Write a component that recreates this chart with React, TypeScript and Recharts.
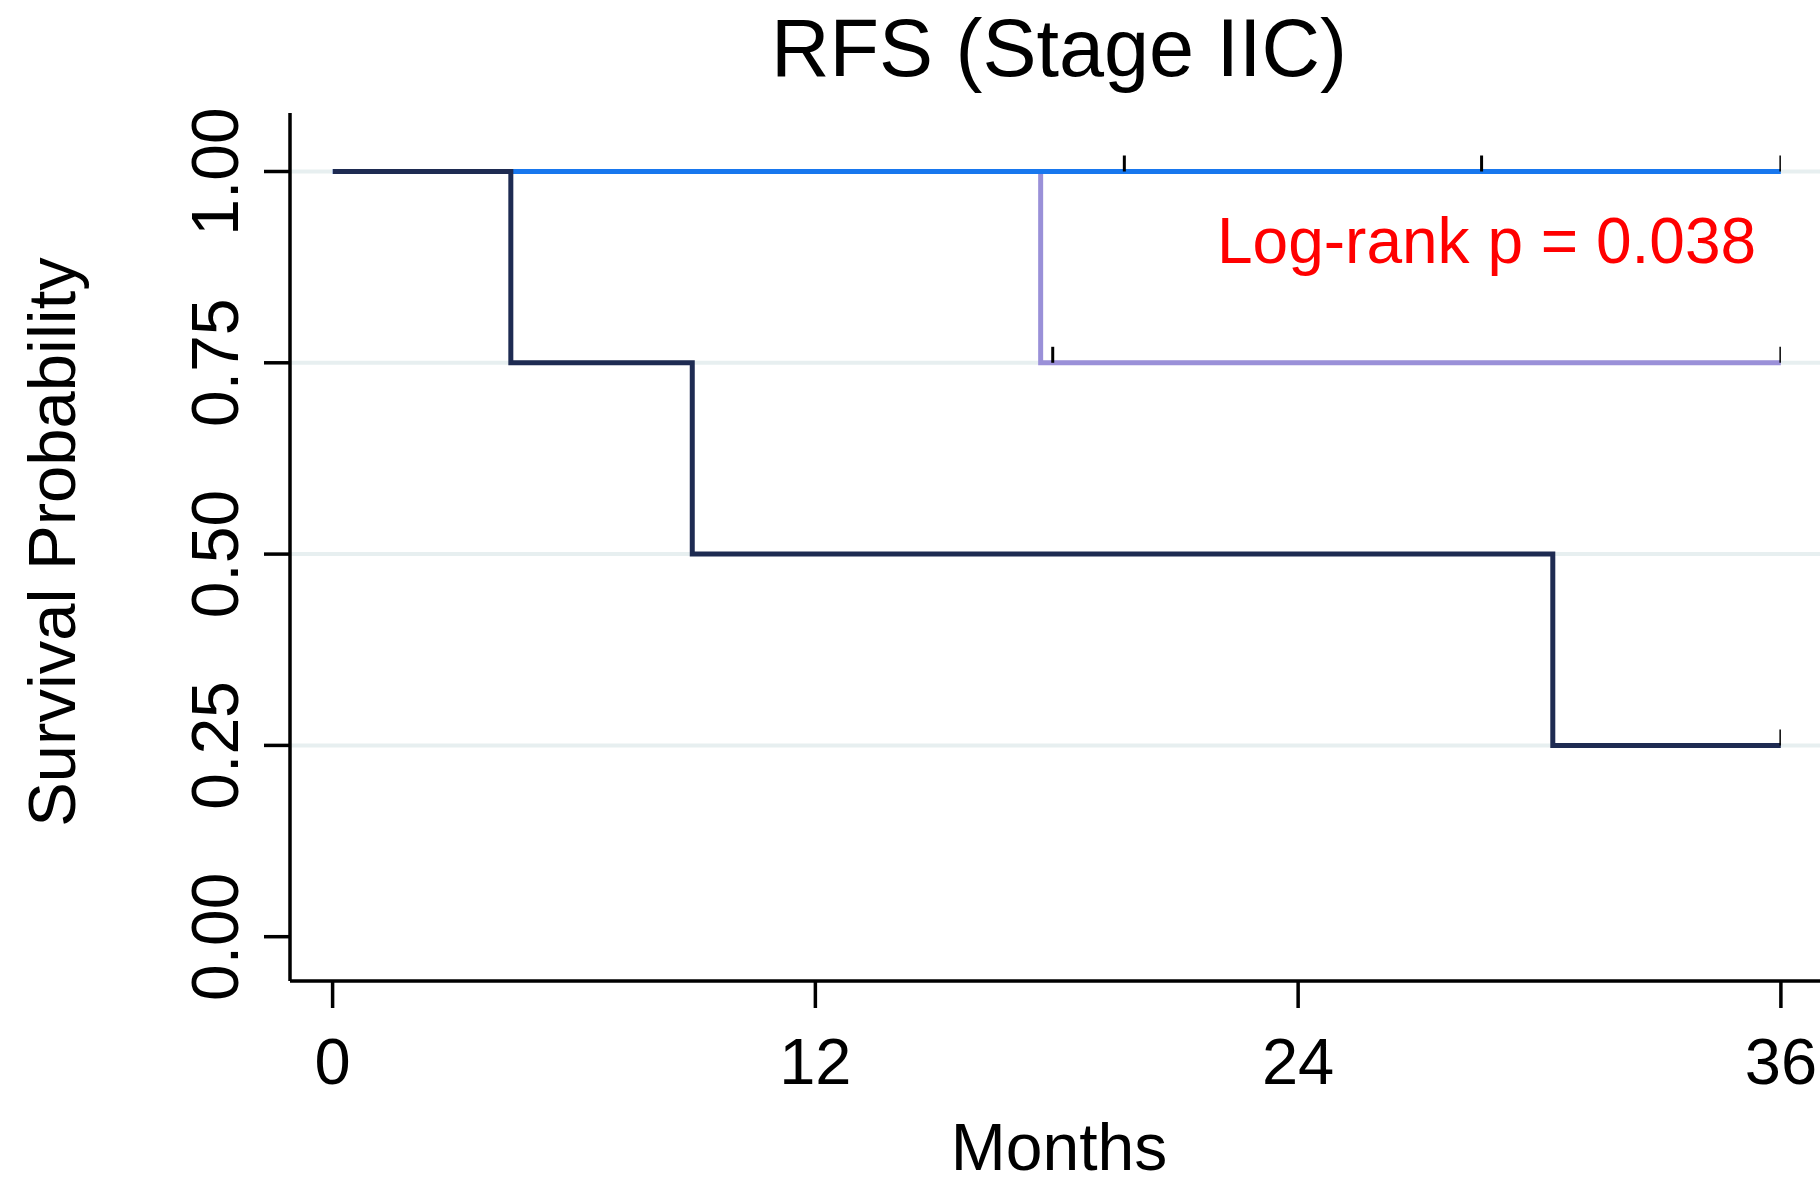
import React from "react";
import { ComposedChart, Line, XAxis, YAxis, CartesianGrid } from "recharts";

// Kaplan-Meier step data (months, survival probability)
const groupBlue = [
  { t: 0, s: 1 },
  { t: 36, s: 1 },
];
const groupPurple = [
  { t: 0, s: 1 },
  { t: 17.6, s: 0.75 },
  { t: 36, s: 0.75 },
];
const groupNavy = [
  { t: 0, s: 1 },
  { t: 4.43, s: 0.75 },
  { t: 8.94, s: 0.5 },
  { t: 30.33, s: 0.25 },
  { t: 36, s: 0.25 },
];
// censoring marks
const censorBlue = [
  { t: 19.68, s: 1 },
  { t: 28.56, s: 1 },
  { t: 36, s: 1 },
];
const censorPurple = [
  { t: 17.9, s: 0.75 },
  { t: 36, s: 0.75 },
];
const censorNavy = [{ t: 36, s: 0.25 }];

const xTicks = [0, 12, 24, 36];
const yTicks = [0, 0.25, 0.5, 0.75, 1];
const gridValues = [0.25, 0.5, 0.75, 1];
const yTickLabels = ["0.00", "0.25", "0.50", "0.75", "1.00"];

const FONT = "'Liberation Sans', Arial, Helvetica, sans-serif";

const CensorMark = (props: any) => {
  const { cx, cy } = props;
  if (cx == null || cy == null) return null;
  return <line x1={cx} y1={cy} x2={cx} y2={cy - 16} stroke="#000" strokeWidth={3} />;
};

const YTick = (props: any) => {
  const { x, y, payload } = props;
  const idx = yTicks.indexOf(payload.value);
  const label = idx >= 0 ? yTickLabels[idx] : String(payload.value);
  return (
    <g transform={`translate(${x},${y}) rotate(-90)`}>
      <text x={0} y={0} textAnchor="middle" fontSize={66} fontFamily={FONT} fill="#000">
        {label}
      </text>
    </g>
  );
};

export default function App() {
  return (
    <div style={{ position: "absolute", left: 0, top: 0, width: 1820, height: 1183, background: "#fff" }}>
      <ComposedChart
        width={1820}
        height={1183}
        margin={{ top: 113, right: 0, bottom: 0, left: 0 }}
      >
        <CartesianGrid
          vertical={false}
          horizontalValues={gridValues}
          stroke="#e7eff0"
          strokeWidth={4}
        />
        <XAxis
          type="number"
          dataKey="t"
          domain={[0, 36]}
          ticks={xTicks}
          height={202}
          padding={{ left: 42.6, right: 39.1 }}
          tickSize={27}
          tickMargin={30}
          axisLine={{ stroke: "#000", strokeWidth: 3.5 }}
          tickLine={{ stroke: "#000", strokeWidth: 3.5 }}
          tick={{ fontSize: 65, fontFamily: FONT, fill: "#000" }}
          allowDataOverflow
        />
        <YAxis
          type="number"
          domain={[0, 1]}
          ticks={yTicks}
          width={290}
          padding={{ top: 58.5, bottom: 44.3 }}
          tickSize={26}
          tickMargin={26}
          axisLine={{ stroke: "#000", strokeWidth: 3.5 }}
          tickLine={{ stroke: "#000", strokeWidth: 3.5 }}
          tick={<YTick />}
        />
        <Line data={groupPurple} dataKey="s" type="stepAfter" stroke="#9a90d8" strokeWidth={5} dot={false} isAnimationActive={false} />
        <Line data={groupBlue} dataKey="s" type="stepAfter" stroke="#1877ee" strokeWidth={5} dot={false} isAnimationActive={false} />
        <Line data={groupNavy} dataKey="s" type="stepAfter" stroke="#1e2b52" strokeWidth={5} dot={false} isAnimationActive={false} />
        <Line data={censorBlue} dataKey="s" stroke="none" dot={<CensorMark />} isAnimationActive={false} />
        <Line data={censorPurple} dataKey="s" stroke="none" dot={<CensorMark />} isAnimationActive={false} />
        <Line data={censorNavy} dataKey="s" stroke="none" dot={<CensorMark />} isAnimationActive={false} />
      </ComposedChart>
      <svg
        width={1820}
        height={1183}
        style={{ position: "absolute", left: 0, top: 0, pointerEvents: "none" }}
      >
        <text x={1059} y={76} textAnchor="middle" fontSize={81} fontFamily={FONT} fill="#000">
          RFS (Stage IIC)
        </text>
        <text x={1217} y={263} textAnchor="start" fontSize={64} fontFamily={FONT} fill="#ff0000">
          Log-rank p = 0.038
        </text>
        <text x={1059} y={1170} textAnchor="middle" fontSize={66} fontFamily={FONT} fill="#000">
          Months
        </text>
        <g transform="translate(75,542) rotate(-90)">
          <text x={0} y={0} textAnchor="middle" fontSize={67} fontFamily={FONT} fill="#000">
            Survival Probability
          </text>
        </g>
      </svg>
    </div>
  );
}
